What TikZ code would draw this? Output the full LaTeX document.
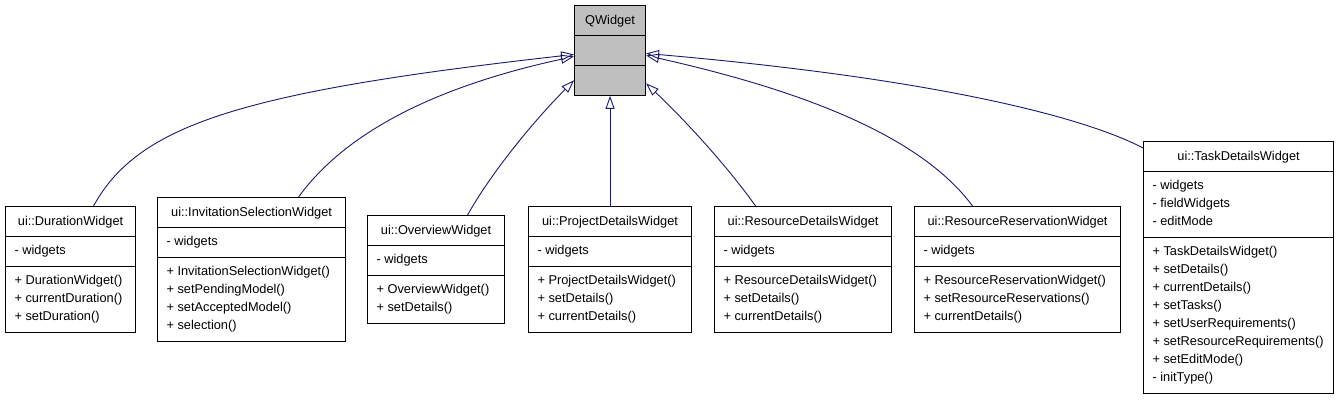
\documentclass[tikz,border=0pt]{standalone}
\usepackage{fontspec}
\setmainfont{Liberation Sans}
\usetikzlibrary{shapes.multipart,arrows.meta}
\definecolor{edgeblue}{HTML}{191970}
\definecolor{basegray}{HTML}{BFBFBF}

\begin{document}
\begin{tikzpicture}[x=1pt,y=-1pt,
	umlclass/.style={rectangle split, rectangle split parts=3, draw=black, line width=1.1pt,
		anchor=north west, font=\fontsize{12.8}{18}\selectfont, align=left,
		rectangle split part align={center,left,left}, inner xsep=9pt, inner ysep=5.4pt},
	inherit/.style={draw=edgeblue, line width=0.9pt, -{Triangle[open,length=13pt,width=9pt]}}]

	\useasboundingbox (0,0) rectangle (1344,403);

	% base class
	\node[umlclass, minimum width=71pt, fill=basegray] (q_widget) at (574,5)
		{\strut QWidget \nodepart{two} \strut \nodepart{three} \strut};

	% derived classes
	\node[umlclass, minimum width=130pt] (duration_widget) at (5,206)
		{\strut ui::DurationWidget
		\nodepart{two} \strut - widgets
		\nodepart{three} \strut + DurationWidget()\\ \strut + currentDuration()\\ \strut + setDuration()};
	\node[umlclass, minimum width=188pt] (invitation_widget) at (157,197)
		{\strut ui::InvitationSelectionWidget
		\nodepart{two} \strut - widgets
		\nodepart{three} \strut + InvitationSelectionWidget()\\ \strut + setPendingModel()\\ \strut + setAcceptedModel()\\ \strut + selection()};
	\node[umlclass, minimum width=137pt] (overview_widget) at (367,215)
		{\strut ui::OverviewWidget
		\nodepart{two} \strut - widgets
		\nodepart{three} \strut + OverviewWidget()\\ \strut + setDetails()};
	\node[umlclass, minimum width=163pt] (project_widget) at (528,206)
		{\strut ui::ProjectDetailsWidget
		\nodepart{two} \strut - widgets
		\nodepart{three} \strut + ProjectDetailsWidget()\\ \strut + setDetails()\\ \strut + currentDetails()};
	\node[umlclass, minimum width=177pt] (resource_widget) at (714,206)
		{\strut ui::ResourceDetailsWidget
		\nodepart{two} \strut - widgets
		\nodepart{three} \strut + ResourceDetailsWidget()\\ \strut + setDetails()\\ \strut + currentDetails()};
	\node[umlclass, minimum width=206pt] (reservation_widget) at (914,206)
		{\strut ui::ResourceReservationWidget
		\nodepart{two} \strut - widgets
		\nodepart{three} \strut + ResourceReservationWidget()\\ \strut + setResourceReservations()\\ \strut + currentDetails()};
	\node[umlclass, minimum width=190pt] (task_widget) at (1143,141)
		{\strut ui::TaskDetailsWidget
		\nodepart{two} \strut - widgets\\ \strut - fieldWidgets\\ \strut - editMode
		\nodepart{three} \strut + TaskDetailsWidget()\\ \strut + setDetails()\\ \strut + currentDetails()\\ \strut + setTasks()\\
			\strut + setUserRequirements()\\ \strut + setResourceRequirements()\\ \strut + setEditMode()\\ \strut - initType()};

	% inheritance arrows
	\draw[inherit] ([xshift=23pt]duration_widget.north) .. controls (138,125) and (240,92) .. ([yshift=-19pt]q_widget.one split west);
	\draw[inherit] ([xshift=47pt]invitation_widget.north) .. controls (340,140) and (420,90) .. ([yshift=-21pt]q_widget.one split west);
	\draw[inherit] ([xshift=31.5pt]overview_widget.north) .. controls (490,175) and (530,125) .. ([yshift=-15pt]q_widget.two split west);
	\draw[inherit] (project_widget.north) -- (q_widget.south);
	\draw[inherit] ([xshift=-47.5pt]resource_widget.north) .. controls (730,170) and (690,125) .. ([yshift=-18pt]q_widget.two split east);
	\draw[inherit] ([xshift=-45pt]reservation_widget.north) .. controls (920,135) and (800,90) .. ([yshift=-20pt]q_widget.one split east);
	\draw[inherit] ([yshift=-7pt]task_widget.north west) .. controls (1090,120) and (950,80) .. ([yshift=-18pt]q_widget.one split east);
\end{tikzpicture}
\end{document}
